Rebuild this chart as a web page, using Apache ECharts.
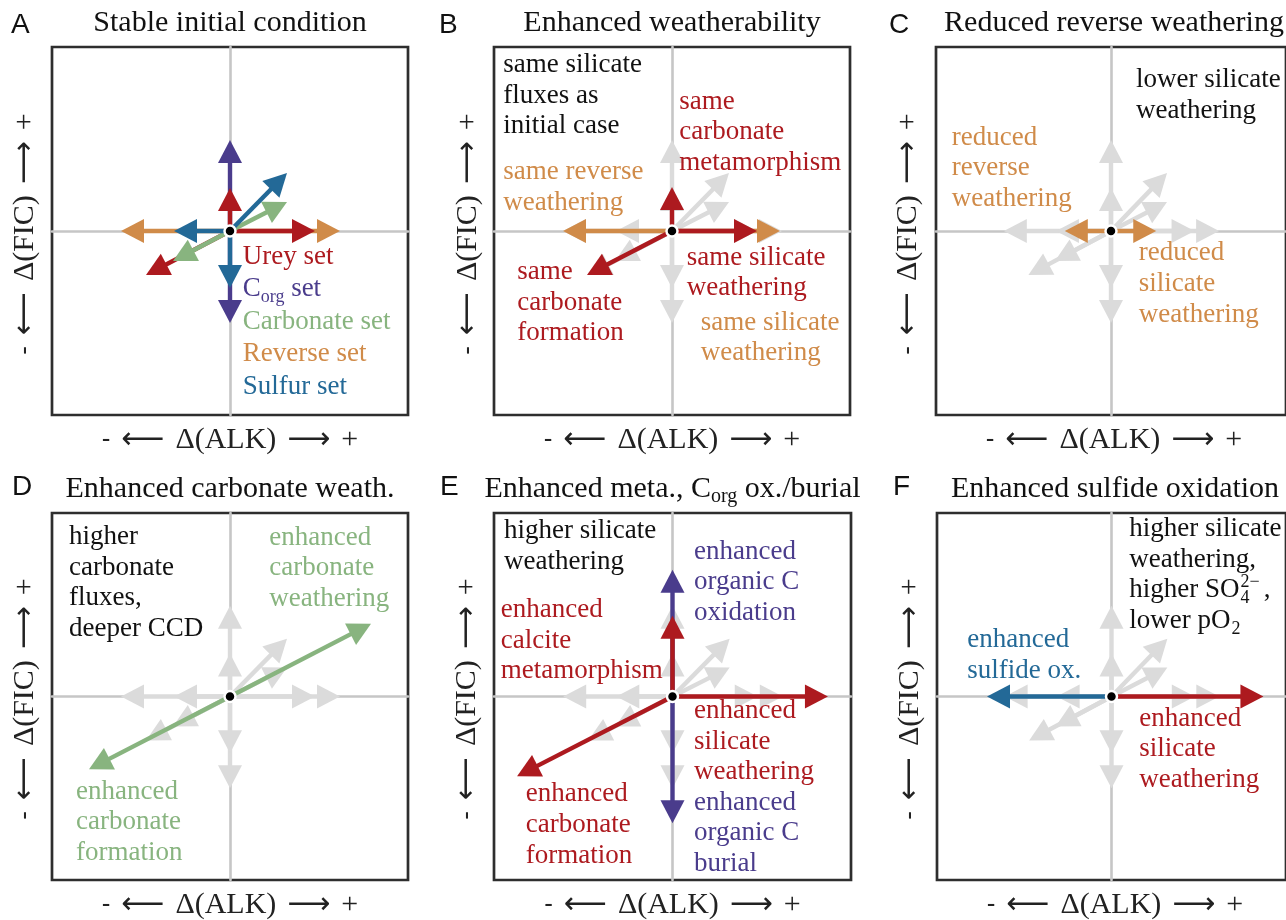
<!DOCTYPE html>
<html><head><meta charset="utf-8">
<script src="https://cdn.jsdelivr.net/npm/echarts@6/dist/echarts.min.js"></script>
<style>html,body{margin:0;padding:0;background:#fff}#c{width:1286px;height:920px}</style>
</head><body><div id="c"></div>
<script>
// ---------------- data (vectors are [ΔALK, ΔFIC], arbitrary units) ----------------
const xRange = [-17.8, 17.8];
const yRange = [-18.4, 18.4];

// baseline flux sets (panel A)
const ureySet      = [[8.5, 0], [0, 4.3], [-8.4, -4.4]];
const corgSet      = [[0, 9.1], [0, -9.2]];
const carbonateSet = [[5.7, 2.9], [-5.7, -3.0]];
const reverseSet   = [[11.0, 0], [-10.9, 0]];
const sulfurSet    = [[5.7, 5.8], [-5.6, 0], [0, -5.7]];

// perturbed fluxes
const bReverse   = [[10.8, 0], [-10.9, 0]];
const bUrey      = [[8.5, 0], [0, 4.4], [-8.5, -4.4]];
const cReverse   = [[4.6, 0], [-4.7, 0]];
const dCarbonate = [[14.1, 7.3], [-14.1, -7.3]];
const eCorg      = [[0, 12.7], [0, -12.7]];
const eUrey      = [[15.5, 0], [0, 8.1], [-15.5, -8.0]];
const fSulfur    = [[-12.7, 0]];
const fUrey      = [[15.5, 0]];

const origin = [[0, 0]];

// ---------------- texts ----------------
const panelLetters = ['A', 'B', 'C', 'D', 'E', 'F'];
const panelTitles = ['Stable initial condition', 'Enhanced weatherability', 'Reduced reverse weathering',
  'Enhanced carbonate weath.', 'Enhanced meta., C{sub|org} ox./burial', 'Enhanced sulfide oxidation'];
const legendNames = ['Urey set', 'C{sub|org} set', 'Carbonate set', 'Reverse set', 'Sulfur set'];
const xLabelParts = ['-', '\u27F5', 'Δ(ALK)', '\u27F6', '+'];
const yLabelParts = ['-', '\u27F5', 'Δ(FIC)', '\u27F6', '+'];
const notesB = ['same silicate\nfluxes as\ninitial case', 'same\ncarbonate\nmetamorphism', 'same reverse\nweathering',
  'same silicate\nweathering', 'same\ncarbonate\nformation', 'same silicate\nweathering'];
const notesC = ['lower silicate\nweathering', 'reduced\nreverse\nweathering', 'reduced\nsilicate\nweathering'];
const notesD = ['higher\ncarbonate\nfluxes,\ndeeper CCD', 'enhanced\ncarbonate\nweathering', 'enhanced\ncarbonate\nformation'];
const notesE = ['higher silicate\nweathering', 'enhanced\norganic C\noxidation', 'enhanced\ncalcite\nmetamorphism',
  'enhanced\nsilicate\nweathering', 'enhanced\norganic C\nburial', 'enhanced\ncarbonate\nformation'];
const notesF = ['higher silicate\nweathering,', 'higher SO', '4', '2\u2212', ',', 'lower pO', '2', 'enhanced\nsulfide ox.', 'enhanced\nsilicate\nweathering'];

// ---------------- styles ----------------
const RED = '#ad1a1f', PURPLE = '#4a3c8c', BLUE = '#236997', GREEN = '#88b47f', ORANGE = '#d08b49', GRAY = '#dbdbdb', BLACK = '#111';
const SERIF = 'Liberation Serif';
const SANS = 'Liberation Sans';
const ARROWF = 'DejaVu Sans';
const FS = 27, LH = 30.7, TFS = 30;

const grids = [
  {left: 52, top: 47, width: 356, height: 368},
  {left: 494, top: 47, width: 356, height: 368},
  {left: 936, top: 47, width: 356, height: 368},
  {left: 52, top: 513, width: 356, height: 367},
  {left: 494, top: 513, width: 357, height: 367},
  {left: 937, top: 513, width: 356, height: 367}
];

const mctx = document.createElement('canvas').getContext('2d');
function fnt(size, fam) { return size + 'px "' + fam + '"'; }
function measure(s, size, fam) { mctx.font = fnt(size, fam); return mctx.measureText(s).width; }

function tokStyle(size, fam, color, lh, va) {
  const s = {fontSize: size, fontFamily: fam, fill: color, lineHeight: lh};
  if (va) s.verticalAlign = va;
  return s;
}
function wrapRich(text) {
  return text.split('\n').map(line => line.split(/(\{[a-z]+\|[^}]*\})/).filter(p => p.length)
    .map(p => /^\{[a-z]+\|/.test(p) ? p : '{m|' + p + '}').join('')).join('\n');
}

// text block whose first baseline is at `base`
function T(x, base, text, color, o) {
  o = o || {};
  const F = o.size || FS, L = o.lh || LH, fam = o.fam || SERIF;
  const rich = {m: tokStyle(F, fam, color, L)};
  if (o.sub) {
    const f = o.sub[0], s = o.sub[1];
    rich.sub = tokStyle(f, SERIF, color, 2 * (L / 2 + 0.3375 * (f - F) - s), 'bottom');
  }
  return {type: 'text', x: x, y: base - 0.3375 * F - L / 2, z: 100, silent: true,
    style: {text: wrapRich(text), fill: color, fontSize: F, fontFamily: fam, lineHeight: L,
      align: o.align || 'left', verticalAlign: 'top', rich: rich}};
}

function axisName(parts, cx, cy, rotate) {
  const sizes = [26, 30, 30, 30, 30];
  const fams = [SANS, ARROWF, SERIF, ARROWF, SERIF];
  const gap = 11;
  const ws = parts.map((p, i) => measure(p, sizes[i], fams[i]));
  const total = ws.reduce((a, b) => a + b, 0) + gap * (parts.length - 1);
  let xx = -total / 2;
  const children = parts.map((p, i) => {
    const el = {type: 'text', x: xx + ws[i] / 2, y: 0, silent: true,
      style: {text: p, fill: '#222', fontSize: sizes[i], fontFamily: fams[i], align: 'center', verticalAlign: 'middle'}};
    xx += ws[i] + gap;
    return el;
  });
  return {type: 'group', x: cx, y: cy, rotation: rotate ? Math.PI / 2 : 0, children: children};
}

// ---------------- arrows ----------------
function renderArrow(params, api) {
  const dx = api.value(0), dy = api.value(1);
  const p0 = api.coord([0, 0]), p1 = api.coord([dx, dy]);
  const vx = p1[0] - p0[0], vy = p1[1] - p0[1];
  const len = Math.hypot(vx, vy);
  const ux = vx / len, uy = vy / len, nx = -uy, ny = ux;
  const hl = 23, hw = 12;
  const bx = p1[0] - ux * hl, by = p1[1] - uy * hl;
  const color = api.visual('color');
  return {type: 'group', children: [
    {type: 'line', shape: {x1: p0[0], y1: p0[1], x2: bx + ux * 3, y2: by + uy * 3}, style: {stroke: color, lineWidth: 4.4}},
    {type: 'polygon', shape: {points: [[p1[0], p1[1]], [bx + nx * hw, by + ny * hw], [bx - nx * hw, by - ny * hw]]}, style: {fill: color}}
  ]};
}
function arrows(gi, data, color, z) {
  return {type: 'custom', xAxisIndex: gi, yAxisIndex: gi, data: data, renderItem: renderArrow,
    itemStyle: {color: color}, z: z, silent: true, animation: false, clip: false};
}
const baseline = [reverseSet, corgSet, ureySet, carbonateSet, sulfurSet];
const baseColors = [ORANGE, PURPLE, RED, GREEN, BLUE];
const panelSeries = [
  [],
  [[bReverse, ORANGE], [bUrey, RED]],
  [[cReverse, ORANGE]],
  [[dCarbonate, GREEN]],
  [[eCorg, PURPLE], [eUrey, RED]],
  [[fSulfur, BLUE], [fUrey, RED]]
];

const series = [];
grids.forEach((g, gi) => {
  baseline.forEach((set, k) => series.push(arrows(gi, set, gi === 0 ? baseColors[k] : GRAY, 2 + k * 0.01)));
  panelSeries[gi].forEach((ps, k) => series.push(arrows(gi, ps[0], ps[1], 3 + k * 0.01)));
  series.push({type: 'scatter', xAxisIndex: gi, yAxisIndex: gi, data: origin, symbolSize: 11, z: 5, silent: true,
    itemStyle: {color: '#000', borderColor: '#fff', borderWidth: 2.5, opacity: 1}});
});

const axisCommon = {type: 'value', axisTick: {show: false}, axisLabel: {show: false}, splitLine: {show: false},
  axisLine: {show: true, onZero: true, lineStyle: {color: '#c6c6c6', width: 2.6}}};

// ---------------- graphic texts ----------------
const G = [];
const cxs = grids.map(g => g.left + g.width / 2);
const letterX = [11, 439, 889, 12, 440, 893];
grids.forEach((g, i) => {
  const row = i < 3 ? 0 : 1;
  G.push(T(letterX[i], row ? 497 : 34.5, panelLetters[i], BLACK, {size: 28, fam: SANS, lh: 32}));
  G.push(T(cxs[i], row ? 499 : 33.3, panelTitles[i], BLACK, {size: TFS, lh: 36, align: 'center', sub: [20, 6]}));
  G.push(axisName(xLabelParts, cxs[i], row ? 905 : 440, false));
});
const yLabX = [25, 468, 908, 25, 467, 910];
const yLabY = [234, 234, 234, 699, 699, 699];
grids.forEach((g, i) => G.push(axisName(yLabelParts, yLabX[i], yLabY[i], true)));

// panel A legend
const legColors = [RED, PURPLE, GREEN, ORANGE, BLUE];
legendNames.forEach((n, k) => G.push(T(242.7, 265.7 + k * 32.6, n, legColors[k], {lh: 34, sub: [18, 5.5]})));

// panel B
G.push(T(503.3, 74, notesB[0], BLACK));
G.push(T(679.3, 110.7, notesB[1], RED));
G.push(T(503.3, 181, notesB[2], ORANGE));
G.push(T(686.7, 266.7, notesB[3], RED));
G.push(T(517.3, 281, notesB[4], RED));
G.push(T(700.7, 331.7, notesB[5], ORANGE));
// panel C
G.push(T(1136, 89.3, notesC[0], BLACK));
G.push(T(951.7, 146.7, notesC[1], ORANGE));
G.push(T(1138.7, 262.3, notesC[2], ORANGE));
// panel D
G.push(T(69, 546, notesD[0], BLACK));
G.push(T(269.3, 546.7, notesD[1], GREEN));
G.push(T(76, 800.7, notesD[2], GREEN));
// panel E
G.push(T(504, 540, notesE[0], BLACK));
G.push(T(694, 560.7, notesE[1], PURPLE));
G.push(T(500.7, 619, notesE[2], RED));
G.push(T(694, 720, notesE[3], RED));
G.push(T(694, 811.7, notesE[4], PURPLE));
G.push(T(525.7, 803.3, notesE[5], RED));
// panel F
(function () {
  const x0 = 1129.3;
  G.push(T(x0, 538.3, notesF[0], BLACK));
  const w1 = measure(notesF[1], FS, SERIF);
  G.push(T(x0, 599.3, notesF[1], BLACK));
  G.push(T(x0 + w1 + 1, 604.5, notesF[2], BLACK, {size: 18, lh: 20}));
  G.push(T(x0 + w1 + 1, 588.5, notesF[3], BLACK, {size: 18, lh: 20}));
  const w3 = measure(notesF[3], 18, SERIF);
  G.push(T(x0 + w1 + w3 + 5, 599.3, notesF[4], BLACK));
  const w5 = measure(notesF[5], FS, SERIF);
  G.push(T(x0, 630, notesF[5], BLACK));
  G.push(T(x0 + w5 + 1, 635, notesF[6], BLACK, {size: 18, lh: 20}));
  G.push(T(967.3, 649, notesF[7], BLUE));
  G.push(T(1139.3, 727.7, notesF[8], RED));
})();

const option = {
  animation: false,
  backgroundColor: '#fff',
  grid: grids.map(g => Object.assign({show: true, borderColor: '#2e2e2e', borderWidth: 2.7, backgroundColor: '#fff'}, g)),
  xAxis: grids.map((g, i) => Object.assign({gridIndex: i, min: xRange[0], max: xRange[1]}, axisCommon)),
  yAxis: grids.map((g, i) => Object.assign({gridIndex: i, min: yRange[0], max: yRange[1]}, axisCommon)),
  series: series,
  graphic: {elements: G}
};
const chart = echarts.init(document.getElementById('c'));
chart.setOption(option);
</script></body></html>
